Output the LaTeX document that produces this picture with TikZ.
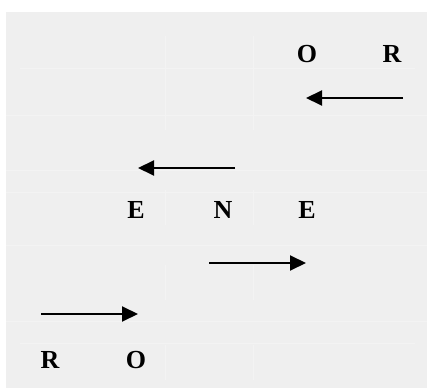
\documentclass[tikz,border=0pt]{standalone}
\usepackage{fontspec}
\setmainfont{Liberation Serif}
\usetikzlibrary{arrows.meta}
\definecolor{bg}{HTML}{EFEFEF}
\definecolor{gridc}{HTML}{F3F3F3}
\tikzset{
  letter/.style={font=\fontsize{26}{26}\selectfont\bfseries, inner sep=0pt},
  arr/.style={line width=2pt, -{Triangle[length=16pt,width=15pt]}},
  faint/.style={draw=gridc, line width=0.8pt}
}
\begin{document}
\begin{tikzpicture}[x=1pt,y=-1pt]
\useasboundingbox (0,0) rectangle (429,390);
\fill[bg] (6,12) rectangle (427,388);
% faint table lines
\draw[faint] (20,68) -- (415,68);
\draw[faint] (6,115) -- (427,115);
\draw[faint] (6,170) -- (427,170);
\draw[faint] (6,192) -- (427,192);
\draw[faint] (6,245) -- (427,245);
\draw[faint] (6,321) -- (427,321);
\draw[faint] (20,343) -- (415,343);
\draw[faint] (165,36) -- (165,130);
\draw[faint] (253,36) -- (253,130);
\draw[faint] (165,190) -- (165,225);
\draw[faint] (253,190) -- (253,225);
\draw[faint] (165,265) -- (165,300);
\draw[faint] (253,265) -- (253,300);
\draw[faint] (165,345) -- (165,380);
\draw[faint] (253,345) -- (253,380);
% letters
\node[letter] (o1) at (307,54) {O};
\node[letter] (r1) at (392,54) {R};
\node[letter] (e1) at (136,210) {E};
\node[letter] (n1) at (223,210) {N};
\node[letter] (e2) at (307,210) {E};
\node[letter] (r2) at (50,360) {R};
\node[letter] (o2) at (136,360) {O};
% arrows
\coordinate (a1s) at (403,98);
\coordinate (a1e) at (306,98);
\coordinate (a2s) at (235,168);
\coordinate (a2e) at (138,168);
\coordinate (a3s) at (209,263);
\coordinate (a3e) at (306,263);
\coordinate (a4s) at (41,314);
\coordinate (a4e) at (138,314);
\draw[arr] (a1s) -- (a1e);
\draw[arr] (a2s) -- (a2e);
\draw[arr] (a3s) -- (a3e);
\draw[arr] (a4s) -- (a4e);
\end{tikzpicture}
\end{document}
